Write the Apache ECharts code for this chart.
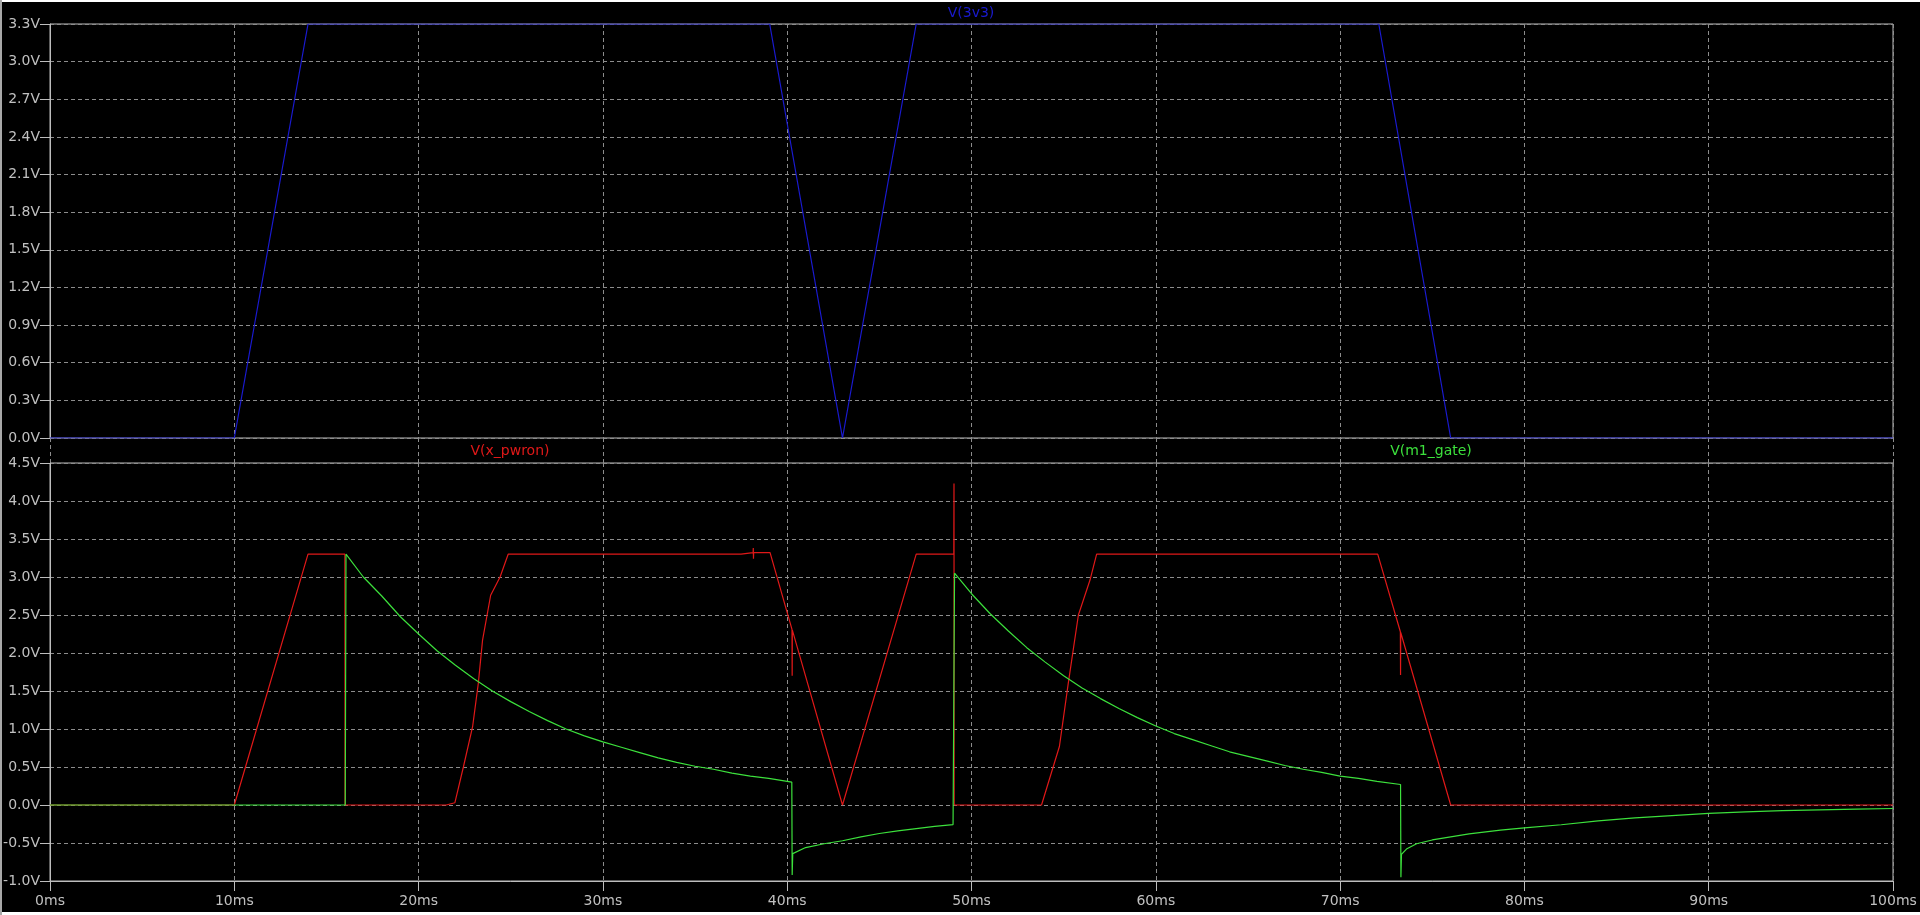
<!DOCTYPE html>
<html>
<head>
<meta charset="utf-8">
<script src="https://cdn.jsdelivr.net/npm/echarts@6/dist/echarts.min.js"></script>
<style>
html,body{margin:0;padding:0;background:#000;}
#chart{width:1920px;height:915px;}
</style>
</head>
<body>
<div id="chart"></div>
<script>
// ---- data (time in ms, voltage in V) ----
const v3v3_t = [0, 10, 14, 39.05, 43, 47, 72.1, 76, 100];
const v3v3_v = [0, 0, 3.3, 3.3, 0, 3.3, 3.3, 0, 0];

const pwron_t = [0, 10, 14, 16.0, 16.01, 21.5, 21.6, 21.97, 22.43, 22.93, 23.24, 23.47, 23.91, 24.42, 24.86,
  37.5, 37.55, 38.15, 38.16, 38.17, 38.18, 39.07, 40.26, 40.27, 40.28, 43.0, 47.0,
  49.04, 49.05, 49.06, 53.8, 54.77, 55.25, 55.8, 56.43, 56.79,
  72.04, 73.27, 73.28, 73.29, 76.0, 100];
const pwron_v = [0, 0, 3.3, 3.3, 0, 0, 0.02, 0.03, 0.5, 1.03, 1.6, 2.17, 2.76, 3.0, 3.3,
  3.3, 3.32, 3.32, 3.38, 3.24, 3.32, 3.32, 2.31, 1.7, 2.3, 0, 3.3,
  3.3, 4.23, 0, 0, 0.77, 1.6, 2.5, 2.96, 3.3,
  3.3, 2.28, 1.71, 2.27, 0, 0];

const gate_t = [0, 16.02, 16.06, 17, 18, 19, 20, 21, 22, 23, 24, 25, 26, 27, 28, 29, 30, 31, 32, 33, 34, 35, 36, 37, 38, 39, 40.25,
  40.27, 40.3, 41, 42, 43, 44, 45, 46, 47, 48, 49.0,
  49.08, 50, 51, 52, 53, 54, 55, 56, 57, 58, 59, 60, 61, 62, 63, 64, 65, 66, 67, 68, 69, 70, 71, 72, 73.28,
  73.3, 73.33, 73.6, 74.15, 75, 76, 77, 78.7, 80, 82, 84, 86, 88, 90, 92, 94, 96, 98, 100];
const gate_v = [0, 0, 3.3, 3.0, 2.75, 2.48, 2.25, 2.03, 1.84, 1.66, 1.5, 1.36, 1.23, 1.11, 1.0, 0.91, 0.83, 0.76, 0.69, 0.62, 0.56, 0.51, 0.47, 0.42, 0.38, 0.35, 0.30,
  -0.92, -0.64, -0.56, -0.51, -0.47, -0.42, -0.375, -0.34, -0.31, -0.28, -0.257,
  3.05, 2.78, 2.52, 2.29, 2.07, 1.88, 1.70, 1.54, 1.40, 1.27, 1.15, 1.04, 0.94, 0.86, 0.78, 0.70, 0.64, 0.58, 0.52, 0.47, 0.43, 0.38, 0.35, 0.31, 0.27,
  -0.95, -0.65, -0.58, -0.51, -0.46, -0.42, -0.38, -0.33, -0.30, -0.26, -0.21, -0.17, -0.14, -0.11, -0.09, -0.075, -0.065, -0.055, -0.046];

const traceNames = ['V(3v3)', 'V(x_pwron)', 'V(m1_gate)'];
const traceColors = ['#1a1ad0', '#e01818', '#3ce03c'];

function pairs(t, v) { return t.map((x, i) => [x, v[i]]); }

const FONT = 'DejaVu Sans';
const LABEL_COLOR = '#c0c0c0';
const FRAME = '#bdbdbd';
const GRIDC = '#8c8c8c';
const dashed = { show: true, lineStyle: { color: GRIDC, type: [4, 3], width: 1 } };

const chart = echarts.init(document.getElementById('chart'));
chart.setOption({
  animation: false,
  backgroundColor: '#000',
  title: [
    { text: traceNames[0], left: 971, top: 6, textAlign: 'center', padding: 0,
      textStyle: { color: traceColors[0], fontFamily: FONT, fontSize: 14, fontWeight: 'normal' } },
    { text: traceNames[1], left: 510, top: 444, textAlign: 'center', padding: 0,
      textStyle: { color: traceColors[1], fontFamily: FONT, fontSize: 14, fontWeight: 'normal' } },
    { text: traceNames[2], left: 1431, top: 444, textAlign: 'center', padding: 0,
      textStyle: { color: traceColors[2], fontFamily: FONT, fontSize: 14, fontWeight: 'normal' } }
  ],
  grid: [
    { left: 50, right: 27, top: 24, height: 414, show: true, borderColor: FRAME, borderWidth: 1 },
    { left: 50, right: 27, top: 463, height: 418, show: true, borderColor: FRAME, borderWidth: 1 },
    { left: 50, right: 27, top: 438, height: 25, show: false }
  ],
  xAxis: [
    { gridIndex: 0, type: 'value', min: 0, max: 100, interval: 10,
      axisLine: { show: false, onZero: false }, axisTick: { show: false }, axisLabel: { show: false }, splitLine: dashed },
    { gridIndex: 1, type: 'value', min: 0, max: 100, interval: 10,
      axisLine: { show: true, onZero: false, lineStyle: { color: FRAME } },
      axisTick: { show: true, length: 10, lineStyle: { color: FRAME } },
      axisLabel: { show: true, margin: 13, color: LABEL_COLOR, fontFamily: FONT, fontSize: 14,
        formatter: v => v + 'ms' },
      splitLine: dashed },
    { gridIndex: 2, type: 'value', min: 0, max: 100, interval: 10,
      axisLine: { show: false, onZero: false }, axisTick: { show: false }, axisLabel: { show: false }, splitLine: dashed }
  ],
  yAxis: [
    { gridIndex: 0, type: 'value', min: 0, max: 3.3, interval: 0.3,
      axisLine: { show: true, onZero: false, lineStyle: { color: FRAME } },
      axisTick: { show: true, length: 10, lineStyle: { color: FRAME } },
      axisLabel: { margin: 10, color: LABEL_COLOR, fontFamily: FONT, fontSize: 14,
        formatter: v => v.toFixed(1) + 'V' },
      splitLine: dashed },
    { gridIndex: 1, type: 'value', min: -1, max: 4.5, interval: 0.5,
      axisLine: { show: true, onZero: false, lineStyle: { color: FRAME } },
      axisTick: { show: true, length: 10, lineStyle: { color: FRAME } },
      axisLabel: { margin: 10, color: LABEL_COLOR, fontFamily: FONT, fontSize: 14,
        formatter: v => v.toFixed(1) + 'V' },
      splitLine: dashed },
    { gridIndex: 2, type: 'value', min: 0, max: 1, show: false, splitLine: { show: false } }
  ],
  series: [
    { name: traceNames[0], type: 'line', xAxisIndex: 0, yAxisIndex: 0, data: pairs(v3v3_t, v3v3_v),
      showSymbol: false, lineStyle: { color: traceColors[0], width: 1.2 }, itemStyle: { color: traceColors[0] } },
    { name: traceNames[1], type: 'line', xAxisIndex: 1, yAxisIndex: 1, data: pairs(pwron_t, pwron_v),
      showSymbol: false, lineStyle: { color: traceColors[1], width: 1.2 }, itemStyle: { color: traceColors[1] } },
    { name: traceNames[2], type: 'line', xAxisIndex: 1, yAxisIndex: 1, data: pairs(gate_t, gate_v),
      showSymbol: false, lineStyle: { color: traceColors[2], width: 1.2 }, itemStyle: { color: traceColors[2] } }
  ],
  graphic: [
    { type: 'rect', shape: { x: 0, y: 0, width: 1920, height: 2 }, style: { fill: '#ffffff' }, silent: true },
    { type: 'rect', shape: { x: 0, y: 912, width: 1920, height: 3 }, style: { fill: '#ffffff' }, silent: true },
    { type: 'rect', shape: { x: 0, y: 0, width: 2, height: 915 }, style: { fill: '#a8a8a8' }, silent: true }
  ]
});
</script>
</body>
</html>
